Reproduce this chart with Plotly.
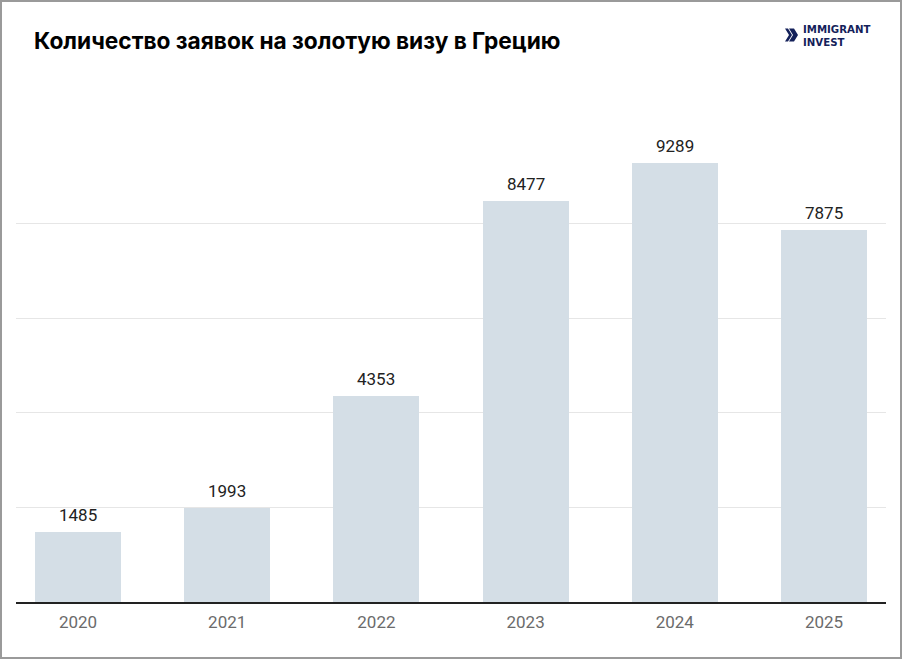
import plotly.graph_objects as go

years = ["2020", "2021", "2022", "2023", "2024", "2025"]
applications = [1485, 1993, 4353, 8477, 9289, 7875]
title_text = "Количество заявок на золотую визу в Грецию"

W, H = 902, 659
L, R, T, B = 16, 16, 134, 57
PW, PH = W - L - R, H - T - B

def px(x):
    return (x - L) / PW

def py(y):
    return (H - B - y) / PH

fig = go.Figure()
fig.add_trace(go.Bar(
    x=list(range(len(years))),
    y=applications,
    width=0.576,
    marker=dict(color="#d4dee6", line=dict(width=0)),
    hoverinfo="skip",
))

shapes = [
    dict(type="rect", xref="paper", yref="paper",
         x0=px(1), x1=px(W - 1), y0=py(H - 1), y1=py(1),
         line=dict(color="#9a9a9a", width=2), fillcolor="rgba(0,0,0,0)", layer="above"),
    dict(type="path", xref="paper", yref="paper",
         path="M {} {} L {} {} L {} {} L {} {} L {} {} L {} {} Z".format(
             px(785), py(28.5), px(788), py(28.5), px(792), py(35),
             px(788), py(41.5), px(785), py(41.5), px(789), py(35)),
         fillcolor="#14215a", line=dict(width=0)),
    dict(type="path", xref="paper", yref="paper",
         path="M {} {} L {} {} L {} {} L {} {} L {} {} L {} {} Z".format(
             px(789), py(28.5), px(794), py(28.5), px(798), py(35),
             px(794), py(41.5), px(789), py(41.5), px(793), py(35)),
         fillcolor="#14215a", line=dict(width=0)),
]

annotations = [
    dict(text="<b>" + title_text + "</b>", xref="paper", yref="paper",
         x=px(32), y=py(40), xanchor="left", yanchor="middle", showarrow=False,
         font=dict(family="Inter", size=22.7, color="#000000")),
    dict(text="<b>IMMIGRANT<br>INVEST</b>", xref="paper", yref="paper",
         x=px(802), y=py(35.5), xanchor="left", yanchor="middle", showarrow=False,
         align="left", borderpad=0,
         font=dict(family="DejaVu Sans", size=10.2, color="#14215a")),
]
for i, v in enumerate(applications):
    annotations.append(dict(
        text=str(v), x=i, y=v, xref="x", yref="y",
        xanchor="center", yanchor="bottom", yshift=5, showarrow=False,
        font=dict(family="Roboto", size=17, color="#222222"),
    ))

fig.update_layout(
    width=W, height=H,
    margin=dict(l=L, r=R, t=T, b=B),
    paper_bgcolor="white", plot_bgcolor="white",
    showlegend=False,
    bargap=0,
    shapes=shapes,
    annotations=annotations,
    xaxis=dict(
        range=[-0.4155, 5.4155],
        tickvals=list(range(len(years))),
        ticktext=years,
        showgrid=False, zeroline=False,
        showline=True, linecolor="#222222", linewidth=1.5,
        ticks="", ticklen=0, ticklabelstandoff=4,
        tickfont=dict(family="Roboto", size=17, color="#6b6b6b"),
        fixedrange=True,
    ),
    yaxis=dict(
        range=[0, 9900],
        dtick=2000,
        showticklabels=False,
        showgrid=True, gridcolor="#e6e6e6", gridwidth=1,
        zeroline=False, showline=False,
        fixedrange=True,
    ),
)

fig.write_html("out.html")
